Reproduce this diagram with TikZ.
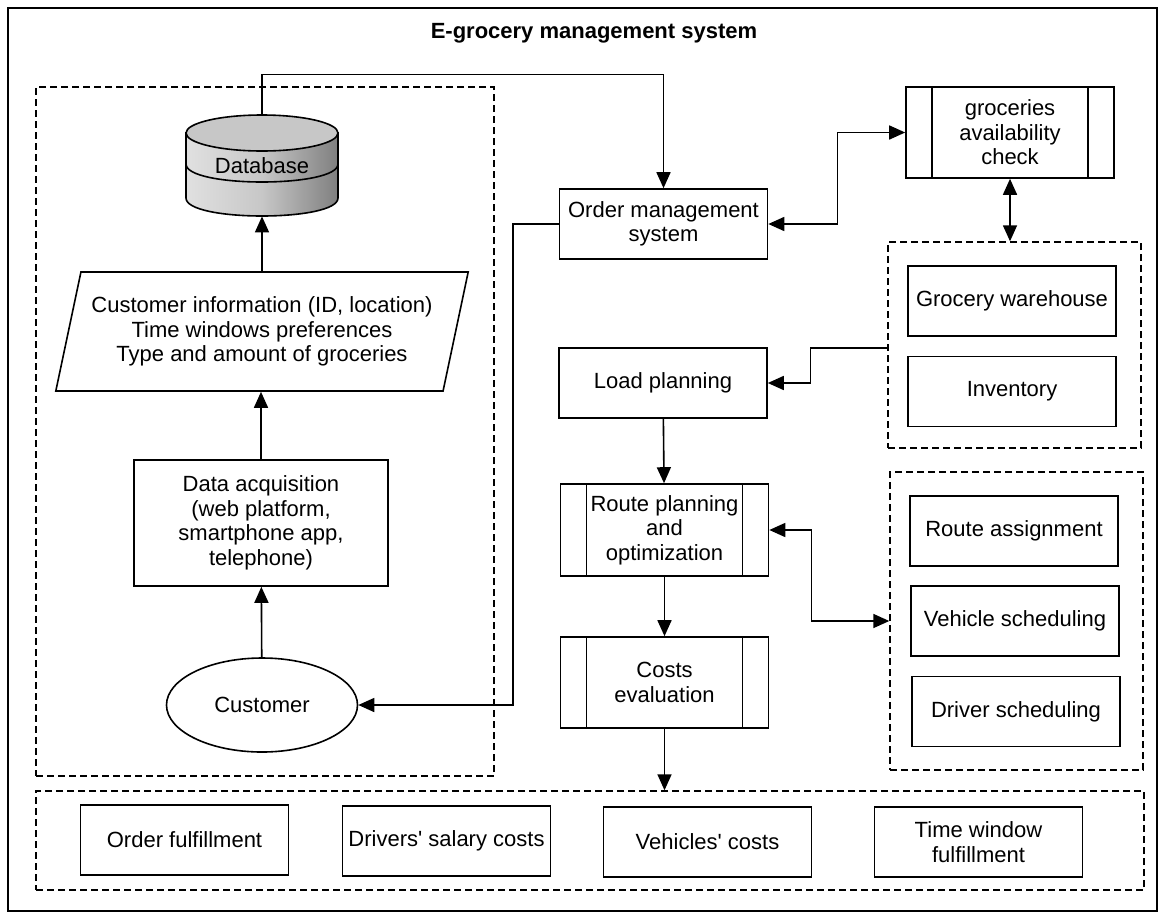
\documentclass[tikz,border=0pt]{standalone}
\usepackage{fontspec}
\setmainfont{Liberation Sans}
\usetikzlibrary{arrows.meta,shapes.geometric}
\newcommand{\lbl}{\fontsize{11}{12.3}\selectfont}
\tikzset{
 box/.style={draw,line width=0.8pt,align=center,font=\lbl,inner sep=1pt,minimum width=104pt,minimum height=35pt},
 subproc/.style={box,path picture={
   \draw[line width=0.8pt] ([xshift=13pt]path picture bounding box.north west) -- ([xshift=13pt]path picture bounding box.south west);
   \draw[line width=0.8pt] ([xshift=-13pt]path picture bounding box.north east) -- ([xshift=-13pt]path picture bounding box.south east);}},
 grp/.style={draw,line width=0.7pt,dash pattern=on 3.5pt off 2pt,inner sep=0pt},
 arr/.style={line width=0.8pt,-{Triangle[length=8pt,width=7pt]}},
 arrb/.style={line width=0.8pt,{Triangle[length=8pt,width=7pt]}-{Triangle[length=8pt,width=7pt]}},
}
\begin{document}
\begin{tikzpicture}[x=0.5pt,y=-0.5pt]
\useasboundingbox (0,0) rectangle (1166,916);
\draw[line width=1.4pt] (8,8) rectangle (1157,911);
\node[font=\lbl\bfseries] (title) at (594,33) {E-grocery management system};

% dashed groups
\node[grp,minimum width=229pt,minimum height=344.5pt] (leftgrp) at (265,431.5) {};
\node[grp,minimum width=126.5pt,minimum height=103pt] (whgrp) at (1014.5,345) {};
\node[grp,minimum width=126.5pt,minimum height=149pt] (rtgrp) at (1016.5,621) {};
\node[grp,minimum width=554pt,minimum height=49.5pt] (botgrp) at (590,840.5) {};

% database cylinder
\draw[line width=0.8pt,left color=black!12,right color=black!50,middle color=black!22]
  (186,133) -- (186,198) .. controls (186,222) and (338,222) .. (338,198) -- (338,133) -- cycle;
\draw[line width=0.8pt,fill=black!22] (262,133) ellipse [x radius=76, y radius=18];
\draw[line width=0.8pt] (186,164) .. controls (186,188) and (338,188) .. (338,164);
\node[font=\lbl,minimum width=76pt,minimum height=50.5pt,inner sep=0pt] (db) at (262,165.5) {Database};

% customer side
\node[box,trapezium,trapezium left angle=72,trapezium right angle=108,trapezium stretches=true,
  minimum width=206.5pt,minimum height=59.5pt] (info) at (262,331.5)
  {Customer information (ID, location)\\Time windows preferences\\Type and amount of groceries};
\node[box,minimum width=127pt,minimum height=63pt] (acq) at (261,523)
  {Data acquisition\\(web platform,\\smartphone app,\\telephone)};
\node[box,ellipse,minimum width=95.5pt,minimum height=47pt] (cust) at (262,705) {Customer};

% order side
\node[box] (oms) at (663.5,224) {Order management\\system};
\node[subproc,minimum height=45.5pt] (avail) at (1010,132.5) {groceries\\availability\\check};
\node[box] (load) at (663,383) {Load planning};
\node[subproc,minimum height=46pt] (route) at (664.5,530) {Route planning\\and\\optimization};
\node[subproc,minimum height=45.5pt] (costs) at (664.5,682.5) {Costs\\evaluation};

\node[box] (whouse) at (1012,301) {Grocery warehouse};
\node[box] (inv) at (1012,391.5) {Inventory};
\node[box] (rassign) at (1014,531) {Route assignment};
\node[box] (vsched) at (1015,621) {Vehicle scheduling};
\node[box] (dsched) at (1016,711.5) {Driver scheduling};

\node[box] (ofulfil) at (184.5,840) {Order fulfillment};
\node[box] (salary) at (446.5,841) {Drivers\textquotesingle{} salary costs};
\node[box] (vcosts) at (707.5,842) {Vehicles\textquotesingle{} costs};
\node[box] (twin) at (978.5,842) {Time window\\fulfillment};

% connectors
\draw[arr] (cust) -- (acq);
\draw[arr] (acq) -- (info.south -| acq.north);
\draw[arr] (info.north -| db.south) -- (db.south);
\draw[arr] (db.north) -- ++(0,-40) -| (oms.north);
\draw[arrb] (oms.east) -- ++(69,0) |- (avail.west);
\draw[arrb] (avail.south) -- (avail.south |- whgrp.north);
\draw[arr] ([yshift=-1.5pt]whgrp.west) -- ++(-77,0) |- (load.east);
\draw[arr] (load) -- (route);
\draw[arrb] (route.east) -- ++(42,0) |- (rtgrp.west);
\draw[arr] (route) -- (costs);
\draw[arr] (costs.south) -- (costs.south |- botgrp.north);
\draw[arr] (oms.west) -- ++(-46,0) |- (cust.east);
\end{tikzpicture}
\end{document}
